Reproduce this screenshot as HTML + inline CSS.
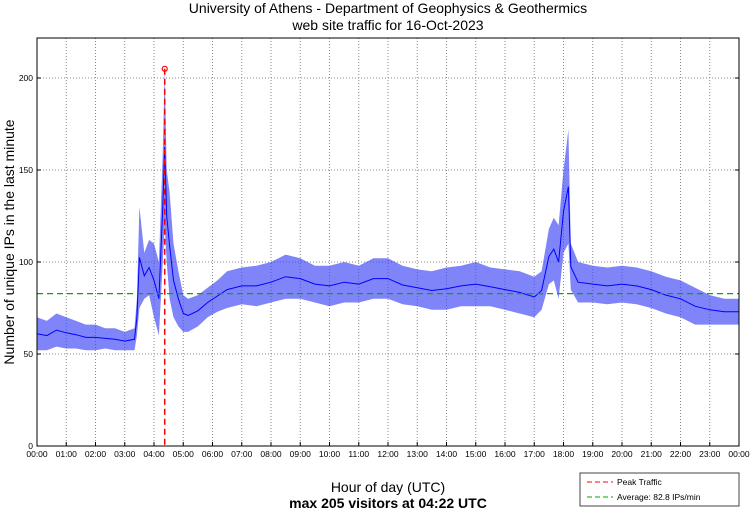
<!DOCTYPE html>
<html><head><meta charset="utf-8"><style>
body{margin:0;background:#fff;}
svg{display:block;font-family:"Liberation Sans",sans-serif;}
</style></head><body>
<svg id="chart" width="750" height="511">
<rect x="0" y="0" width="750" height="511" fill="#fff"/>
<text x="388" y="13" font-size="14" text-anchor="middle">University of Athens - Department of Geophysics &amp; Geothermics</text>
<text x="388" y="30" font-size="14" text-anchor="middle">web site traffic for 16-Oct-2023</text>
<g id="grid"></g>
<g id="series"></g>
<rect x="37" y="38" width="702" height="408" fill="none" stroke="#000" stroke-width="1"/>
<g id="ticks"></g>
<text transform="translate(14,242) rotate(-90)" font-size="14" text-anchor="middle">Number of unique IPs in the last minute</text>
<text x="388" y="492" font-size="14" text-anchor="middle">Hour of day (UTC)</text>
<text x="388" y="508" font-size="14" font-weight="bold" text-anchor="middle">max 205 visitors at 04:22 UTC</text>
<g>
<rect x="580" y="473" width="159" height="33" fill="#fff" stroke="#444"/>
<line x1="587" y1="482" x2="613" y2="482" stroke="#f00" stroke-dasharray="5,3"/>
<text x="617" y="485" font-size="8.5">Peak Traffic</text>
<line x1="587" y1="497" x2="613" y2="497" stroke="#0a0" stroke-dasharray="5,3"/>
<text x="617" y="500" font-size="8.5">Average: 82.8 IPs/min</text>
</g>
</svg>
<script>
const times=[0,20,40,60,80,100,120,140,160,180,200,205,210,220,230,240,250,258,262,266,272,280,290,300,310,330,350,370,390,420,450,480,510,540,570,600,630,660,690,720,750,780,810,840,870,900,930,960,990,1020,1035,1050,1060,1070,1080,1090,1095,1110,1140,1170,1200,1230,1260,1290,1320,1350,1380,1410,1440];
const lowValues=[52,52,54,53,53,52,52,53,52,52,52,60,75,80,82,70,60,100,120,100,80,70,65,62,62,65,70,73,75,77,76,78,80,80,78,76,78,78,80,80,77,76,74,74,76,76,76,74,72,70,74,88,90,80,105,110,85,78,78,77,78,77,75,72,70,66,66,66,66];
const highValues=[70,68,72,70,68,66,66,64,64,62,64,80,130,105,112,110,100,160,205,150,138,110,95,82,80,82,86,90,95,97,98,100,104,102,98,98,100,98,102,102,98,96,95,97,98,100,97,96,95,92,95,118,124,120,150,172,110,100,98,97,98,97,95,92,90,86,82,80,80];
const yTicks=[0,50,100,150,200];
const xTickHours=[0,1,2,3,4,5,6,7,8,9,10,11,12,13,14,15,16,17,18,19,20,21,22,23,24];
const peakTime=[262];
const peakValue=[205];
const averageValue=[82.8];

const X0=37,X1=739,Y0=446,Y200=78;
const xs=m=>X0+(X1-X0)*m/1440;
const ys=v=>Y0-(Y0-Y200)*v/200;
const NS='http://www.w3.org/2000/svg';
function mk(tag,attrs,parent){const e=document.createElementNS(NS,tag);for(const k in attrs)e.setAttribute(k,attrs[k]);parent.appendChild(e);return e;}
const grid=document.getElementById('grid'),ticks=document.getElementById('ticks'),ser=document.getElementById('series');
yTicks.forEach(v=>{
  const l=mk('line',{x1:X0,x2:X1,y1:ys(v),y2:ys(v),stroke:'#888','stroke-dasharray':'1,2'},grid);
  
  
  const t=mk('text',{x:X0-4,y:ys(v)+3,'font-size':'8.5','text-anchor':'end'},ticks);
  t.textContent=v;
  
  
  mk('line',{x1:X0,x2:X0+4,y1:ys(v),y2:ys(v),stroke:'#000'},ticks);
  mk('line',{x1:X1,x2:X1-4,y1:ys(v),y2:ys(v),stroke:'#000'},ticks);
});
xTickHours.forEach(h=>{
  const x=xs(h*60);
  const l=mk('line',{x1:x,x2:x,y1:38,y2:Y0,stroke:'#888','stroke-dasharray':'1,2'},grid);
  
  
  mk('line',{x1:x,x2:x,y1:Y0,y2:Y0-4,stroke:'#000'},ticks);
  const t=mk('text',{x:x,y:457,'font-size':'8.5','text-anchor':'middle'},ticks);
  t.textContent=String(h%24).padStart(2,'0')+':00';
  
  
});
let band='';
times.forEach((m,i)=>{band+=(i?'L':'M')+xs(m).toFixed(1)+','+ys(highValues[i]).toFixed(1);});
for(let i=times.length-1;i>=0;i--)band+='L'+xs(times[i]).toFixed(1)+','+ys(lowValues[i]).toFixed(1);
const b=mk('path',{d:band+'Z',fill:'#3a44f5','fill-opacity':'0.65',stroke:'none'},ser);


let zig='';
times.forEach((m,i)=>{const mid=(lowValues[i]+highValues[i])/2;zig+=(i?'L':'M')+xs(m).toFixed(1)+','+ys(mid).toFixed(1);});
const z=mk('path',{d:zig,fill:'none',stroke:'#00f','stroke-width':'1'},ser);


const avg=mk('line',{x1:X0,x2:X1,y1:ys(averageValue[0]),y2:ys(averageValue[0]),stroke:'#0a0','stroke-dasharray':'6,4','stroke-width':'1.2'},ser);


const pk=mk('line',{x1:xs(peakTime[0]),x2:xs(peakTime[0]),y1:ys(peakValue[0]),y2:Y0,stroke:'#f00','stroke-dasharray':'6,4','stroke-width':'1.5'},ser);


const pc=mk('circle',{cx:xs(peakTime[0]),cy:ys(peakValue[0]),r:2.5,fill:'none',stroke:'#f00','stroke-width':'1.2'},ser);


</script>
</body></html>
